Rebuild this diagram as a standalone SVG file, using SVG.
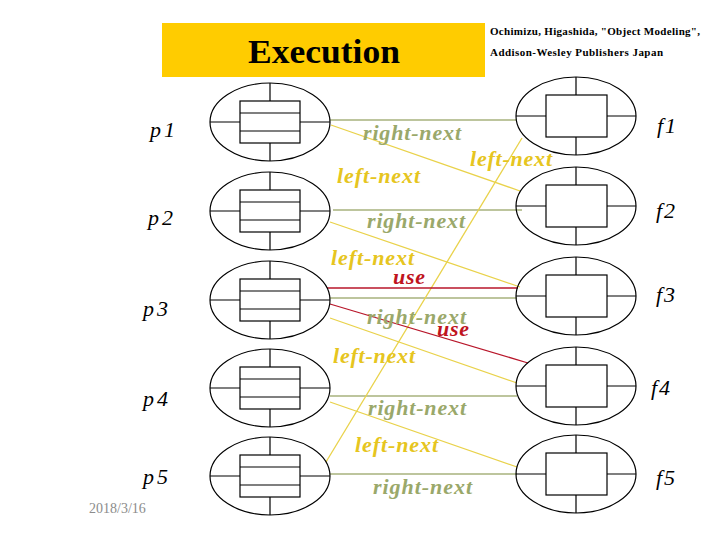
<svg xmlns="http://www.w3.org/2000/svg" width="720" height="540" viewBox="0 0 720 540">
<style>
.e{fill:none;stroke:#000;stroke-width:1.2}
.k{stroke:#000;stroke-width:1.2;fill:none}
.lab{font-family:"Liberation Serif",serif;font-style:italic;font-size:22px}
.rn{font-family:"Liberation Serif",serif;font-style:italic;font-weight:bold;font-size:22px;fill:#9AA86A}
.ln{font-family:"Liberation Serif",serif;font-style:italic;font-weight:bold;font-size:22px;fill:#E6C520}
.us{font-family:"Liberation Serif",serif;font-style:italic;font-weight:bold;font-size:22px;fill:#C0141E}
.g{stroke:#A7B27C;stroke-width:1.3}
.y{stroke:#E9D24A;stroke-width:1.3}
.r{stroke:#B8162A;stroke-width:1.3}
</style>
<defs>
<g id="pn">
<ellipse class="e" cx="0" cy="0" rx="60" ry="39"/>
<rect class="k" x="-30" y="-21" width="60" height="42"/>
<path class="k" d="M-30-9H30M-30 9H30M0-39V-21M0 21V39M-60 0H-30M30 0H60"/>
</g>
<g id="fn">
<ellipse class="e" cx="0" cy="0" rx="60" ry="39"/>
<rect class="k" x="-30" y="-21" width="61" height="42"/>
<path class="k" d="M0-39V-21M0 21V39M-60 0H-30M31 0H60"/>
</g>
</defs>
<rect width="720" height="540" fill="#fff"/>
<g id="title">
<rect x="162" y="23" width="323" height="54" fill="#FFCC00"/>
<text x="324" y="63" text-anchor="middle" font-family="Liberation Serif,serif" font-weight="bold" font-size="34" textLength="152" lengthAdjust="spacingAndGlyphs">Execution</text>
</g>
<g id="citation" font-family="Liberation Serif,serif" font-weight="bold" font-size="11">
<text x="490" y="35" textLength="210">Ochimizu, Higashida, "Object Modeling",</text>
<text x="490" y="56" textLength="173">Addison-Wesley Publishers Japan</text>
</g>
<g id="connectors">
<line class="g" x1="330" y1="120" x2="517" y2="120"/>
<line class="g" x1="333" y1="210" x2="522" y2="210"/>
<line class="g" x1="330" y1="298" x2="517" y2="298"/>
<line class="g" x1="330" y1="396" x2="517" y2="396"/>
<line class="g" x1="330" y1="474" x2="517" y2="474"/>
<line class="y" x1="331" y1="125" x2="520" y2="191"/>
<line class="y" x1="330" y1="222" x2="520" y2="287"/>
<line class="y" x1="330" y1="318" x2="517" y2="383"/>
<line class="y" x1="330" y1="402" x2="517" y2="467"/>
<line class="y" x1="326" y1="462" x2="522" y2="138"/>
<line class="r" x1="327" y1="288" x2="518" y2="288"/>
<line class="r" x1="330" y1="304" x2="528" y2="363"/>
</g>
<g id="p1"><use href="#pn" x="270" y="122"/><text class="lab" x="150" y="137" letter-spacing="3">p1</text></g>
<g id="p2"><use href="#pn" x="270" y="211"/><text class="lab" x="148" y="225" letter-spacing="3">p2</text></g>
<g id="p3"><use href="#pn" x="270" y="300"/><text class="lab" x="143" y="316" letter-spacing="3">p3</text></g>
<g id="p4"><use href="#pn" x="270" y="388"/><text class="lab" x="143" y="406" letter-spacing="3">p4</text></g>
<g id="p5"><use href="#pn" x="270" y="476"/><text class="lab" x="143" y="484" letter-spacing="3">p5</text></g>
<g id="f1"><use href="#fn" x="576" y="116"/><text class="lab" x="657" y="133" letter-spacing="2">f1</text></g>
<g id="f2"><use href="#fn" x="576" y="206"/><text class="lab" x="656" y="218" letter-spacing="2">f2</text></g>
<g id="f3"><use href="#fn" x="576" y="296"/><text class="lab" x="656" y="302" letter-spacing="2">f3</text></g>
<g id="f4"><use href="#fn" x="576" y="386"/><text class="lab" x="651" y="395" letter-spacing="2">f4</text></g>
<g id="f5"><use href="#fn" x="576" y="474"/><text class="lab" x="656" y="485" letter-spacing="2">f5</text></g>
<g id="labels">
<text class="rn" x="363" y="140" textLength="98">right-next</text>
<text class="ln" x="337" y="183" textLength="83">left-next</text>
<text class="ln" x="470" y="166" textLength="82">left-next</text>
<text class="rn" x="367" y="228" textLength="98">right-next</text>
<text class="ln" x="331" y="265" textLength="83">left-next</text>
<text class="us" x="393" y="284" textLength="32">use</text>
<text class="rn" x="367" y="324" textLength="99">right-next</text>
<text class="us" x="437" y="336" textLength="32">use</text>
<text class="ln" x="333" y="363" textLength="82">left-next</text>
<text class="rn" x="368" y="415" textLength="98">right-next</text>
<text class="ln" x="355" y="452" textLength="83">left-next</text>
<text class="rn" x="373" y="494" textLength="99">right-next</text>
</g>
<text x="89" y="513" font-family="Liberation Serif,serif" font-size="14" fill="#8C8C8C">2018/3/16</text>
</svg>
